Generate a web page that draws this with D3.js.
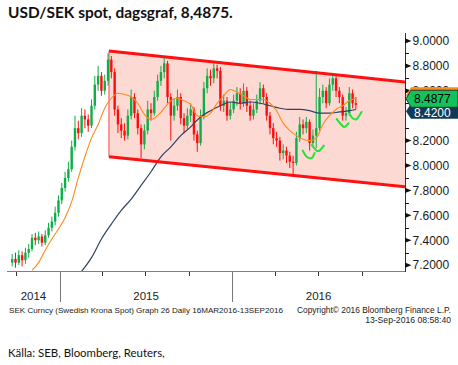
<!DOCTYPE html>
<html><head><meta charset="utf-8">
<script src="https://cdn.jsdelivr.net/npm/d3@7"></script>
<style>body{margin:0;background:#fff}svg{display:block}</style>
</head><body><svg id="c" width="458" height="365"></svg>
<script>
const title = "USD/SEK spot, dagsgraf, 8,4875.";
const source = "Källa: SEB, Bloomberg, Reuters,";
const footLeft = "SEK Curncy (Swedish Krona Spot) Graph 26  Daily 16MAR2016-13SEP2016";
const footRight = "Copyright\u00A9 2016 Bloomberg Finance L.P.";
const footStamp = "13-Sep-2016 08:58:40";

const firstWeek = "2014-09-22";
const firstOpen = 7.22;
const closes = [7.25,7.22,7.28,7.24,7.30,7.33,7.42,7.40,7.43,7.38,
7.44,7.50,7.55,7.62,7.72,7.82,7.90,7.97,8.15,8.30,
8.26,8.40,8.37,8.32,8.48,8.65,8.72,8.60,8.68,8.85,
8.75,8.45,8.33,8.28,8.24,8.40,8.55,8.42,8.30,8.17,
8.28,8.45,8.42,8.55,8.68,8.75,8.82,8.55,8.40,8.48,
8.55,8.38,8.32,8.40,8.45,8.25,8.18,8.40,8.62,8.72,
8.70,8.78,8.76,8.48,8.52,8.40,8.45,8.52,8.58,8.50,
8.60,8.48,8.40,8.45,8.52,8.62,8.55,8.40,8.30,8.22,
8.20,8.10,8.12,8.08,8.03,8.02,8.22,8.33,8.30,8.35,
8.18,8.24,8.30,8.55,8.60,8.50,8.65,8.70,8.60,8.55,
8.40,8.42,8.58,8.50,8.4877];
const highs = [7.29,7.30,7.32,7.31,7.34,7.37,7.45,7.46,7.47,7.45,
7.48,7.54,7.59,7.67,7.76,7.86,7.95,8.03,8.20,8.40,
8.36,8.46,8.45,8.41,8.53,8.72,8.80,8.75,8.73,8.90,
8.88,8.78,8.48,8.38,8.34,8.45,8.61,8.58,8.45,8.33,
8.33,8.52,8.50,8.60,8.73,8.80,8.87,8.84,8.58,8.54,
8.61,8.58,8.42,8.46,8.50,8.47,8.28,8.45,8.67,8.78,
8.77,8.82,8.81,8.79,8.57,8.55,8.51,8.57,8.63,8.62,
8.66,8.63,8.52,8.50,8.57,8.67,8.65,8.58,8.43,8.34,
8.27,8.23,8.17,8.15,8.11,8.08,8.27,8.39,8.37,8.39,
8.37,8.29,8.76,8.62,8.65,8.63,8.70,8.74,8.72,8.63,
8.57,8.47,8.63,8.61,8.55];
const lows = [7.19,7.18,7.20,7.19,7.21,7.26,7.31,7.36,7.37,7.35,
7.36,7.42,7.47,7.52,7.59,7.69,7.79,7.87,7.95,8.12,
8.21,8.23,8.30,8.27,8.30,8.45,8.60,8.56,8.57,8.64,
8.70,8.40,8.26,8.22,8.20,8.21,8.37,8.38,8.25,8.06,
8.13,8.25,8.36,8.40,8.52,8.64,8.70,8.50,8.20,8.36,
8.44,8.33,8.26,8.29,8.35,8.20,8.11,8.16,8.37,8.58,
8.64,8.66,8.70,8.44,8.43,8.36,8.37,8.42,8.48,8.45,
8.47,8.43,8.36,8.37,8.42,8.49,8.50,8.36,8.25,8.17,
8.15,8.04,8.05,8.02,7.98,7.91,8.00,8.19,8.25,8.26,
8.12,8.15,8.14,8.28,8.50,8.46,8.48,8.60,8.55,8.50,
8.36,8.36,8.40,8.46,8.45];

const orangeWeeks = [6,8,10,12,14,16,18,20,22,24,26,28,30,32,34,36,38,40,42,44,46,48,50,52,54,56,58,60,62,64,66,68,70,72,74,76,78,80,82,84,86,88,90,92,94,96,98,100,102,104];
const orangeVals = [7.16,7.22,7.32,7.41,7.49,7.58,7.71,7.90,8.07,8.22,8.33,8.46,8.54,8.58,8.57,8.55,8.50,8.41,8.37,8.40,8.46,8.52,8.54,8.52,8.49,8.40,8.39,8.42,8.50,8.56,8.61,8.59,8.56,8.53,8.53,8.53,8.50,8.44,8.34,8.28,8.24,8.21,8.20,8.22,8.33,8.40,8.45,8.48,8.52,8.54];
const navyWeeks = [21,24,27,30,33,36,39,42,45,48,51,54,57,60,63,66,69,72,75,78,81,84,87,90,93,96,99,102,104];
const navyVals = [7.15,7.26,7.41,7.53,7.64,7.73,7.84,7.95,8.07,8.15,8.24,8.31,8.39,8.44,8.48,8.51,8.50,8.51,8.50,8.48,8.46,8.45,8.45,8.44,8.42,8.42,8.43,8.44,8.45];

const channelDates = ["2015-04-15","2017-01-01"];
const channelTop = [8.92, 8.67];
const channelBottom = [8.07, 7.83];

const smiles = [
  [[87.9,8.12],[89.1,8.07],[90.6,8.06],[91.5,8.10]],
  [[90.6,8.165],[92.1,8.12],[93.0,8.12],[94.3,8.16]],
  [[98.2,8.373],[99.7,8.325],[100.6,8.31],[101.8,8.34]],
  [[102.1,8.414],[103.0,8.38],[104.2,8.373],[105.7,8.43]]
];

const yMajor = [7.2,7.4,7.6,7.8,8.0,8.2,8.6,8.8,9.0];
const yMinor = [7.3,7.5,7.7,7.9,8.1,8.3,8.5,8.7,8.9];
const quarterTicks = ["2014-10-01","2015-04-01","2015-07-01","2015-10-01","2016-04-01","2016-07-01","2016-10-01"];
const yearTicks = ["2015-01-01","2016-01-01"];
const yearLabels = ["2014","2015","2016"];
const lastPrice = 8.4877, orangeLast = 8.5400, navyLast = 8.4200;

const svg = d3.select("#c");
const parse = d3.utcParse("%Y-%m-%d");
const x = d3.scaleUtc().domain([parse("2014-09-11"), parse("2017-01-01")]).range([7, 405]);
const y = d3.scaleLinear().domain([7.153, 9.064]).range([271, 33]);
const t0 = parse(firstWeek).getTime();
const wk = i => new Date(t0 + i * 7 * 864e5);
const xi = i => x(wk(i));

svg.append("defs").append("clipPath").attr("id","plot")
  .append("rect").attr("x",7).attr("y",33).attr("width",398).attr("height",238);
const g = svg.append("g").attr("clip-path","url(#plot)");

// channel fill
const cx0 = x(parse(channelDates[0])), cx1 = x(parse(channelDates[1]));
g.append("polygon")
  .attr("points", [[cx0,y(channelTop[0])],[cx1,y(channelTop[1])],[cx1,y(channelBottom[1])],[cx0,y(channelBottom[0])]].map(p=>p.join(",")).join(" "))
  .attr("fill","#fdd9d3");
g.append("line").attr("x1",cx0).attr("x2",cx0).attr("y1",y(channelTop[0])).attr("y2",y(channelBottom[0]))
  .attr("stroke","#ff7a7a").attr("stroke-width",1.5);

// candles
const opens = [firstOpen].concat(closes.slice(0,-1));
const cg = g.append("g");
closes.forEach((c,i)=>{
  const o = opens[i], up = c >= o, col = up ? "#10ad48" : "#ff0d0d";
  const xc = xi(i);
  cg.append("line").attr("x1",xc).attr("x2",xc).attr("y1",y(highs[i])).attr("y2",y(lows[i]))
    .attr("stroke", col).attr("stroke-width",1);
  const yt = y(Math.max(o,c)), yb = y(Math.min(o,c));
  cg.append("rect").attr("x",xc-1.2).attr("width",2.4).attr("y",yt).attr("height",Math.max(1,yb-yt)).attr("fill",col);
});

// moving averages
const line = d3.line().x(d=>xi(d[0])).y(d=>y(d[1])).curve(d3.curveMonotoneX);
g.append("path").attr("d", line(navyWeeks.map((w,i)=>[w,navyVals[i]])))
  .attr("fill","none").attr("stroke","#2f4262").attr("stroke-width",1.2);
g.append("path").attr("d", line(orangeWeeks.map((w,i)=>[w,orangeVals[i]])))
  .attr("fill","none").attr("stroke","#ff8a1c").attr("stroke-width",1.1);

// channel lines
g.append("line").attr("x1",cx0).attr("x2",cx1).attr("y1",y(channelTop[0])).attr("y2",y(channelTop[1]))
  .attr("stroke","#ff1010").attr("stroke-width",3);
g.append("line").attr("x1",cx0).attr("x2",cx1).attr("y1",y(channelBottom[0])).attr("y2",y(channelBottom[1]))
  .attr("stroke","#ff1010").attr("stroke-width",3);

// green smiles
const sline = d3.line().x(d=>xi(d[0])).y(d=>y(d[1])).curve(d3.curveCardinal);
smiles.forEach(s=>{
  g.append("path").attr("d", sline(s)).attr("fill","none").attr("stroke","#27e23a")
    .attr("stroke-width",2).attr("stroke-linecap","round");
});

// x axis
svg.append("line").attr("x1",7).attr("x2",405).attr("y1",271.5).attr("y2",271.5).attr("stroke","#808080");
quarterTicks.forEach(d=>{
  const xx = Math.round(x(parse(d)))+0.5;
  svg.append("line").attr("x1",xx).attr("x2",xx).attr("y1",272).attr("y2",276).attr("stroke","#333");
});
yearTicks.forEach(d=>{
  const xx = Math.round(x(parse(d)))+0.5;
  svg.append("line").attr("x1",xx).attr("x2",xx).attr("y1",272).attr("y2",302).attr("stroke","#777");
});
const yb = [x.range()[0], x(parse(yearTicks[0])), x(parse(yearTicks[1])), x.range()[1]];
yearLabels.forEach((t,i)=>{
  svg.append("text").attr("x",(yb[i]+yb[i+1])/2).attr("y",300).attr("text-anchor","middle")
    .attr("font-family","Liberation Sans, Arial, sans-serif").attr("font-size",11.5).attr("fill","#222").text(t);
});

// y axis (right)
svg.append("line").attr("x1",405.5).attr("x2",405.5).attr("y1",33).attr("y2",272).attr("stroke","#333");
yMinor.forEach(v=>{
  const yy = Math.round(y(v))+0.5;
  svg.append("line").attr("x1",405).attr("x2",409).attr("y1",yy).attr("y2",yy).attr("stroke","#111");
});
yMajor.forEach(v=>{
  const yy = y(v);
  svg.append("polygon").attr("points",`405,${yy-2.6} 411.5,${yy} 405,${yy+2.6}`).attr("fill","#111");
  svg.append("text").attr("x",412.5).attr("y",yy).attr("dy","0.36em")
    .attr("font-family","Liberation Sans, Arial, sans-serif").attr("font-size",12).attr("fill","#1a1a1a")
    .text(v.toFixed(4));
});

// last value labels
function tag(cy, h, fill, stroke, txt, txtCol, txtY){
  const top = cy - h/2, bot = cy + h/2;
  svg.append("polygon").attr("points",`406,${cy} 411,${top} 458,${top} 458,${bot} 411,${bot}`)
    .attr("fill",fill).attr("stroke",stroke).attr("stroke-width",stroke==="none"?0:1);
  if (txt) svg.append("text").attr("x",414).attr("y",txtY).attr("dy","0.36em")
    .attr("font-family","Liberation Sans, Arial, sans-serif").attr("font-size",12).attr("fill",txtCol).text(txt);
}
tag(y(orangeLast)-3, 16, "#ff8a1c", "none", null, "#000", 0);
tag(y(navyLast)-2, 15, "#0f3b5a", "none", navyLast.toFixed(4), "#fff", y(navyLast)-1);
tag(y(lastPrice)-6, 17, "#13c25a", "#1d3b2a", lastPrice.toFixed(4), "#000", y(lastPrice)-6);

// texts
function fitText(sel, target){
  const w = sel.node().getComputedTextLength();
  const fs = parseFloat(sel.attr("font-size"));
  sel.attr("font-size", fs * target / w);
}
const tt = svg.append("text").attr("x",8).attr("y",18).attr("font-family","Lato, sans-serif")
  .attr("font-weight","bold").attr("font-size",16).attr("fill","#111").text(title);
fitText(tt, 225);
const st = svg.append("text").attr("x",8).attr("y",357).attr("font-family","Lato, sans-serif")
  .attr("font-size",13).attr("fill","#111").text(source);
fitText(st, 157);
const f1 = svg.append("text").attr("x",9).attr("y",313).attr("font-family","Liberation Sans, Arial, sans-serif")
  .attr("font-size",8).attr("fill","#222").text(footLeft);
fitText(f1, 274);
const f2 = svg.append("text").attr("x",297).attr("y",313).attr("font-family","Liberation Sans, Arial, sans-serif")
  .attr("font-size",8).attr("fill","#222").text(footRight);
fitText(f2, 154);
const f3 = svg.append("text").attr("x",451).attr("y",323).attr("text-anchor","end").attr("font-family","Liberation Sans, Arial, sans-serif")
  .attr("font-size",8).attr("fill","#222").text(footStamp);
fitText(f3, 86);
</script></body></html>
